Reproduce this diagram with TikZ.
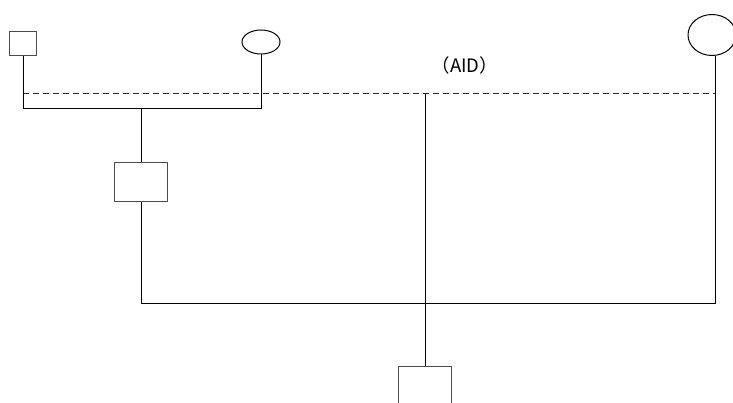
\documentclass[tikz,border=0pt]{standalone}
\usepackage{fontspec}
\usetikzlibrary{shapes.geometric}
\newfontfamily\cjk{Noto Sans CJK SC}
\begin{document}
\begin{tikzpicture}[x=1pt,y=-1pt,
  wire/.style={line width=1pt,black},
  dashwire/.style={line width=1pt,black!85,dash pattern=on 6pt off 4pt},
  sq/.style={draw=black!70,line width=1pt,rectangle,inner sep=0pt,fill=white},
  oval/.style={draw=black,line width=1pt,ellipse,inner sep=0pt}]
\useasboundingbox (0,0) rectangle (733,403);
% parents and offspring
\node[sq,minimum width=27pt,minimum height=24pt] (sqA) at (23,44) {};
\node[oval,minimum width=38pt,minimum height=24pt] (ovA) at (261,42) {};
\node[oval,minimum width=48pt,minimum height=41pt] (ovB) at (712,35) {};
\node[sq,minimum width=53pt,minimum height=39pt] (boxM) at (141,182.5) {};
\node[sq,minimum width=53pt,minimum height=44pt] (boxB) at (425,388) {};
\node[font=\cjk\fontsize{18.5}{22}\selectfont] (lbl) at (465,65) {（AID）};
% junction points
\coordinate (jA) at (23,109);
\coordinate (jB) at (261,109);
\coordinate (jM) at (141,109);
\coordinate (dL) at (23,94);
\coordinate (dR) at (715,94);
\coordinate (dM) at (425,94);
\coordinate (hL) at (141,303);
\coordinate (hR) at (715,303);
% lines
\draw[dashwire] (dL) -- (dR);
\draw[wire] (sqA.south) -- (jA) -- (jB) -- (ovA.south);
\draw[wire] (jM) -- (boxM.north);
\draw[wire] (boxM.south) -- (hL) -- (hR) -- (ovB.south -| hR);
\draw[wire] (dM) -- (boxB.north);
\end{tikzpicture}
\end{document}
